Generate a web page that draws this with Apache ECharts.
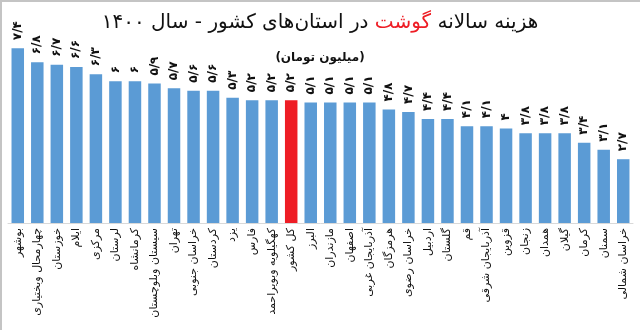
<!DOCTYPE html>
<html>
<head>
<meta charset="utf-8">
<script src="https://cdn.jsdelivr.net/npm/echarts@6/dist/echarts.min.js"></script>
<style>
html,body{margin:0;padding:0;background:#fff;}
#wrap{position:relative;width:640px;height:330px;}
#chart{width:640px;height:330px;}
#frame{position:absolute;left:0;top:0;width:640px;height:330px;box-sizing:border-box;border-top:2px solid #c4c4c4;border-left:2px solid #c4c4c4;pointer-events:none;}
</style>
</head>
<body>
<div id="wrap"><div id="chart"></div><div id="frame"></div></div>
<script>
const categories = [
  'بوشهر','چهارمحال وبختیاری','خوزستان','ایلام','مرکزی','لرستان','کرمانشاه',
  'سیستان وبلوچستان','تهران','خراسان جنوبی','کردستان','یزد','فارس',
  'کهگیلویه وبویراحمد','کل کشور','البرز','مازندران','اصفهان','آذربایجان غربی',
  'هرمزگان','خراسان رضوی','اردبیل','گلستان','قم','آذربایجان شرقی','قزوین',
  'زنجان','همدان','گیلان','کرمان','سمنان','خراسان شمالی'
];
const values = [
  7.4, 6.8, 6.7, 6.6, 6.3, 6, 6,
  5.9, 5.7, 5.6, 5.6, 5.3, 5.2,
  5.2, 5.2, 5.1, 5.1, 5.1, 5.1,
  4.8, 4.7, 4.4, 4.4, 4.1, 4.1, 4,
  3.8, 3.8, 3.8, 3.4, 3.1, 2.7
];
const highlightCategory = 'کل کشور';
const titleMain = 'هزینه سالانه';
const titleRed = 'گوشت';
const titleRest = 'در استان‌های کشور - سال ۱۴۰۰';
const subtitle = '(میلیون تومان)';

const FONT = '"DejaVu Sans", sans-serif';
function fa(v){
  return String(v).replace('.', '/').replace(/\d/g, d => '۰۱۲۳۴۵۶۷۸۹'[d]);
}

const chart = echarts.init(document.getElementById('chart'), null, {renderer:'canvas'});
chart.setOption({
  animation:false,
  backgroundColor:'#ffffff',
  grid:{left:8,right:7,top:34,bottom:107,containLabel:false},
  xAxis:{
    type:'category',
    data:categories,
    axisLine:{show:true,lineStyle:{color:'#d9d9d9',width:1}},
    axisTick:{show:false},
    axisLabel:{
      interval:0,rotate:90,margin:5,
      fontFamily:FONT,fontSize:11,color:'#111'
    }
  },
  yAxis:{type:'value',min:0,max:8,show:false,splitLine:{show:false}},
  series:[
    {
      type:'bar',
      barWidth:'64%',
      data:values.map((v,i)=>({
        value:v,
        itemStyle:{color: categories[i]===highlightCategory ? '#EE1D25' : '#5B9BD5'}
      })),
      label:{
        show:true,position:'top',distance:8,rotate:90,
        align:'left',verticalAlign:'middle',
        fontFamily:FONT,fontSize:12,fontWeight:'bold',color:'#111',
        formatter:p=>fa(p.value)
      }
    }
  ],
  graphic:[
    {
      type:'text',x:320,y:23,
      style:{
        text:'{b|'+titleRest+' }{r|'+titleRed+'}{b| '+titleMain+'}',
        align:'center',verticalAlign:'middle',
        rich:{
          b:{fontFamily:FONT,fontSize:20,fill:'#111',color:'#111'},
          r:{fontFamily:FONT,fontSize:20,fill:'#EE1D25',color:'#EE1D25'}
        }
      }
    },
    {
      type:'text',x:320,y:58,
      style:{
        text:subtitle,align:'center',verticalAlign:'middle',
        fontFamily:FONT,fontSize:12,fontWeight:'bold',fill:'#111'
      }
    }
  ]
});
</script>
</body>
</html>
